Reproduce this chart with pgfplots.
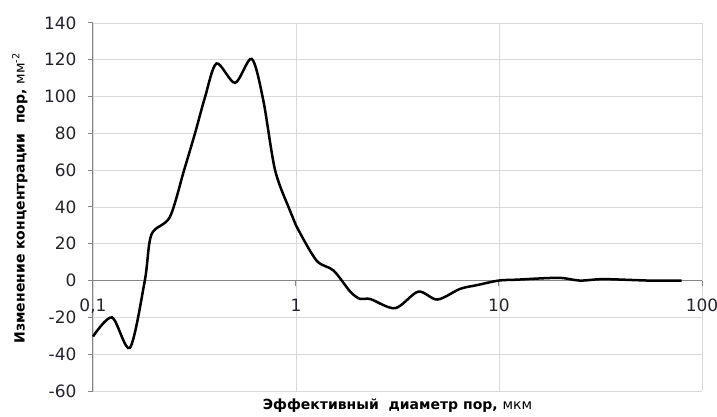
\documentclass[border=0pt]{standalone}
\usepackage{fontspec}
\setmainfont{DejaVu Sans}
\usepackage{pgfplots}
\pgfplotsset{compat=1.18}
\definecolor{gridc}{RGB}{217,217,217}
\definecolor{axisc}{RGB}{134,134,134}
\definecolor{tickc}{RGB}{35,35,45}
\begin{document}
\begin{tikzpicture}
\useasboundingbox (-93bp,-26bp) rectangle (624bp,391bp);
\begin{axis}[
  scale only axis,
  width=609bp, height=368bp,
  xmode=log, log basis x=10,
  xmin=0.1, xmax=100, ymin=-60, ymax=140,
  ytick={-60,-40,...,140},
  xtick={0.1,1,10,100},
  xticklabels={{0,1},1,10,100},
  minor xtick={},
  grid=major,
  major grid style={draw=gridc, line width=0.9bp},
  axis x line=middle,
  axis y line=left,
  hide obscured x ticks=false,
  hide obscured y ticks=false,
  axis line style={draw=axisc, line width=1bp, -},
  tick style={draw=axisc, line width=1bp},
  tick align=outside,
  major tick length=5bp,
  /pgf/number format/assume math mode=true,
  ticklabel style={font=\fontsize{17bp}{20bp}\selectfont, text=tickc},
  yticklabel style={xshift=-8bp},
  xticklabel style={yshift=-10bp},
  xlabel={\textbf{Эффективный\ \ диаметр пор, }мкм},
  ylabel={\textbf{Изменение концентрации\ \ пор, }мм\textsuperscript{-2}},
  xlabel style={at={(axis description cs:0.5,0)}, anchor=center, yshift=-15bp, font=\fontsize{14bp}{16bp}\selectfont},
  ylabel style={at={(axis description cs:-0.12,0.524)}, anchor=center, font=\fontsize{14bp}{16bp}\selectfont},
  clip=false,
]
\addplot[black, line width=2.5bp, smooth, tension=0.5] coordinates {
(0.1,-30.4)
(0.124,-20)
(0.152,-36.5)
(0.18,0)
(0.194,25)
(0.239,34.5)
(0.281,60)
(0.318,80)
(0.356,99.5)
(0.406,118)
(0.501,107.5)
(0.605,120.5)
(0.69,98)
(0.789,60)
(0.934,38)
(1.0,30)
(1.26,11)
(1.53,5.5)
(1.85,-6)
(2.07,-10)
(2.32,-10)
(3.08,-15)
(4.0,-6)
(4.97,-10.3)
(6.43,-4.5)
(7.76,-2.5)
(9.94,0)
(12.2,0.5)
(19.6,1.5)
(25.1,0)
(32.7,0.8)
(55.5,0)
(79.4,0)
};
\end{axis}
\end{tikzpicture}
\end{document}
